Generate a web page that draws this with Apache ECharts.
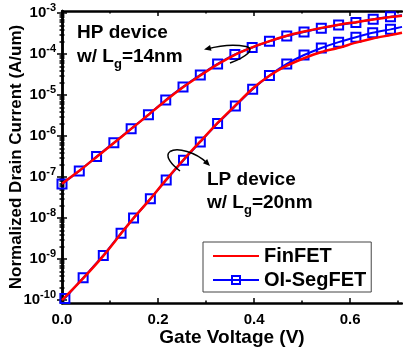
<!DOCTYPE html>
<html>
<head>
<meta charset="utf-8">
<script src="https://cdn.jsdelivr.net/npm/echarts@6/dist/echarts.min.js"></script>
<style>
html, body { margin: 0; padding: 0; background: #fff; }
#chart { width: 403px; height: 347px; }
</style>
</head>
<body>
<div id="chart"></div>
<script>
// gate voltage (V) and normalized drain current (A/um)
var vgHp = [0, 0.036, 0.072, 0.108, 0.144, 0.180, 0.216, 0.252, 0.288, 0.324, 0.360,
            0.396, 0.432, 0.468, 0.504, 0.540, 0.576, 0.612, 0.648, 0.684, 0.708];
var hpSegFet = [6.8e-8, 1.41e-7, 3.16e-7, 6.9e-7, 1.51e-6, 3.3e-6, 7.6e-6, 1.58e-5, 3.1e-5, 5.75e-5, 9.8e-5,
                1.45e-4, 2.04e-4, 2.75e-4, 3.47e-4, 4.27e-4, 5.13e-4, 5.9e-4, 7.1e-4, 8.1e-4, 8.9e-4];
var hpFinFet = [6.9e-8, 1.42e-7, 3.1e-7, 6.8e-7, 1.5e-6, 3.3e-6, 7.4e-6, 1.55e-5, 3.0e-5, 5.6e-5, 9.6e-5,
                1.46e-4, 2.07e-4, 2.8e-4, 3.55e-4, 4.35e-4, 5.2e-4, 6.0e-4, 7.0e-4, 8.0e-4, 8.6e-4];

var vgLp = [0.006, 0.044, 0.086, 0.123, 0.149, 0.184, 0.217, 0.253, 0.288, 0.324, 0.361,
            0.397, 0.432, 0.468, 0.504, 0.540, 0.576, 0.612, 0.647, 0.684, 0.708];
var lpSegFet = [1.1e-10, 3.5e-10, 1.23e-9, 4.3e-9, 1.0e-8, 2.95e-8, 8.5e-8, 2.57e-7, 7.2e-7, 2.04e-6, 5.4e-6,
                1.38e-5, 3.0e-5, 5.75e-5, 9.5e-5, 1.41e-4, 1.95e-4, 2.57e-4, 3.3e-4, 4.0e-4, 4.6e-4];
var vgLpFin = [0, 0.044, 0.086, 0.123, 0.149, 0.184, 0.217, 0.253, 0.288, 0.324, 0.361,
               0.397, 0.432, 0.468, 0.504, 0.540, 0.576, 0.612, 0.647, 0.684, 0.708];
var lpFinFet = [1.0e-10, 3.4e-10, 1.2e-9, 4.2e-9, 1.0e-8, 2.95e-8, 8.7e-8, 2.65e-7, 7.4e-7, 2.1e-6, 5.6e-6,
                1.45e-5, 2.95e-5, 5.2e-5, 7.9e-5, 1.12e-4, 1.42e-4, 1.9e-4, 2.4e-4, 2.9e-4, 3.3e-4];

var decades = [-10, -9, -8, -7, -6, -5, -4, -3];
var voltTicks = [0, 0.2, 0.4, 0.6];
var voltMinor = [0.1, 0.3, 0.5, 0.7];

var FONT = '"Liberation Sans", Arial, sans-serif';
var xMin = 0, xMax = 0.708;
var yMin = -10.07, yMax = -2.95;

var yMinor = [];
for (var n = -11; n < -2; n++) {
    for (var k = 2; k < 10; k++) {
        var t = n + Math.log10(k);
        if (t > yMin && t < yMax) yMinor.push(t);
    }
}

function pairs(xs, ys, lastBare) {
    return xs.map(function (x, i) {
        var item = {value: [x, Math.log10(ys[i])]};
        if (lastBare && i === xs.length - 1) item.symbol = 'none';
        return item;
    });
}

function segSeries(data) {
    return {
        name: 'OI-SegFET', type: 'line', data: data, smooth: 0.2,
        symbol: 'rect', symbolSize: 9, showAllSymbol: true,
        lineStyle: {color: '#0000ff', width: 2},
        itemStyle: {color: 'rgba(0,0,0,0)', borderColor: '#0000ff', borderWidth: 2},
        z: 2
    };
}

function finSeries(data) {
    return {
        name: 'FinFET', type: 'line', data: data, smooth: 0.2, symbol: 'none',
        lineStyle: {color: '#ff0000', width: 2.5},
        itemStyle: {color: '#ff0000'},
        z: 3
    };
}

function xAx(pos, ticks, len, line, labels) {
    return {
        type: 'value', position: pos, min: xMin, max: xMax, interval: 0.1,
        axisLine: {show: line, lineStyle: {color: '#000', width: 2.5}},
        axisTick: {show: true, inside: true, length: len, customValues: ticks,
                   lineStyle: {color: '#000', width: 1.5}},
        axisLabel: labels ? {
            show: true, customValues: voltTicks, margin: 9,
            color: '#000', fontFamily: FONT, fontWeight: 'bold', fontSize: 15,
            formatter: function (v) { return v.toFixed(1); }
        } : {show: false},
        splitLine: {show: false}
    };
}

function yAx(pos, ticks, len, line, labels) {
    return {
        type: 'value', position: pos, min: yMin, max: yMax,
        axisLine: {show: line, lineStyle: {color: '#000', width: 2.5}},
        axisTick: {show: true, inside: true, length: len, customValues: ticks,
                   lineStyle: {color: '#000', width: 1.5}},
        axisLabel: labels ? {
            show: true, customValues: decades, margin: 6,
            formatter: function (v) { return '{b|10}{s|' + Math.round(v) + '}'; },
            rich: {
                b: {fontFamily: FONT, fontWeight: 'bold', fontSize: 15, color: '#000'},
                s: {fontFamily: FONT, fontWeight: 'bold', fontSize: 11, color: '#000', padding: [0, 0, 11, 0]}
            }
        } : {show: false},
        splitLine: {show: false}
    };
}

var xAxes = [
    xAx('bottom', voltTicks, 5, true, true),
    xAx('top', voltTicks, 5, true, false),
    xAx('bottom', voltMinor, 2.5, false, false),
    xAx('top', voltMinor, 2.5, false, false)
];
xAxes[0].name = 'Gate Voltage (V)';
xAxes[0].nameLocation = 'middle';
xAxes[0].nameGap = 25;
xAxes[0].nameMoveOverlap = false;
xAxes[0].nameTextStyle = {fontFamily: FONT, fontWeight: 'bold', fontSize: 19, color: '#000'};

var yAxes = [
    yAx('left', decades, 5, true, true),
    yAx('right', decades, 5, true, false),
    yAx('left', yMinor, 2.5, false, false),
    yAx('right', yMinor, 2.5, false, false)
];
yAxes[0].name = 'Normalized Drain Current (A/um)';
yAxes[0].nameLocation = 'middle';
yAxes[0].nameGap = 37;
yAxes[0].nameMoveOverlap = false;
yAxes[0].nameTextStyle = {fontFamily: FONT, fontWeight: 'bold', fontSize: 17, color: '#000'};

var textRich = {
    a: {fontFamily: FONT, fontWeight: 'bold', fontSize: 19, color: '#000'},
    s: {fontFamily: FONT, fontWeight: 'bold', fontSize: 13, color: '#000', padding: [14, 0, 0, 0]}
};

function arrowHead(tip, from) {
    var dx = tip[0] - from[0], dy = tip[1] - from[1];
    var d = Math.sqrt(dx * dx + dy * dy);
    var ux = dx / d, uy = dy / d;
    var L = 7, W = 3;
    return {
        type: 'polygon', z: 10, silent: true,
        shape: {points: [tip,
            [tip[0] - ux * L - uy * W, tip[1] - uy * L + ux * W],
            [tip[0] - ux * L + uy * W, tip[1] - uy * L - ux * W]]},
        style: {fill: '#000'}
    };
}

function curve(p) {
    return {
        type: 'bezierCurve', z: 10, silent: true,
        shape: {x1: p[0], y1: p[1], cpx1: p[2], cpy1: p[3], cpx2: p[4], cpy2: p[5], x2: p[6], y2: p[7]},
        style: {stroke: '#000', lineWidth: 1.5, fill: null}
    };
}

var chart = echarts.init(document.getElementById('chart'));

var option = {
    animation: false,
    backgroundColor: '#fff',
    grid: {left: 62, right: 1, top: 11, bottom: 44, containLabel: false, outerBoundsMode: 'none'},
    xAxis: xAxes,
    yAxis: yAxes,
    legend: {
        data: [
            {name: 'FinFET', itemStyle: {color: 'rgba(0,0,0,0)', borderWidth: 0, opacity: 0}},
            {name: 'OI-SegFET'}
        ],
        orient: 'vertical', left: 203, top: 242,
        padding: [4, 5, 2, 9], itemGap: 4,
        itemWidth: 46, itemHeight: 10,
        backgroundColor: '#fff', borderColor: '#444', borderWidth: 1, borderRadius: 0,
        textStyle: {fontFamily: FONT, fontWeight: 'bold', fontSize: 20, color: '#000', lineHeight: 20}
    },
    series: [
        segSeries(pairs(vgHp, hpSegFet, true)),
        segSeries(pairs(vgLp, lpSegFet, true)),
        finSeries(pairs(vgHp, hpFinFet, false)),
        finSeries(pairs(vgLpFin, lpFinFet, false))
    ],
    graphic: [
        {type: 'text', x: 77, y: 33, z: 10, style: {text: 'HP device', font: 'bold 19px ' + FONT, fill: '#000', verticalAlign: 'middle'}},
        {type: 'text', x: 77, y: 57, z: 10, style: {text: '{a|w/ L}{s|g}{a|=14nm}', rich: textRich, verticalAlign: 'middle'}},
        {type: 'text', x: 207, y: 180, z: 10, style: {text: 'LP device', font: 'bold 19px ' + FONT, fill: '#000', verticalAlign: 'middle'}},
        {type: 'text', x: 207, y: 203, z: 10, style: {text: '{a|w/ L}{s|g}{a|=20nm}', rich: textRich, verticalAlign: 'middle'}},
        curve([230, 63, 246, 57, 256, 49, 246, 46.5]),
        curve([246, 46.5, 234, 44, 218, 46, 207, 49]),
        arrowHead([204, 49.5], [212, 47.5]),
        curve([180, 171, 172, 165, 164, 156, 170, 151.5]),
        curve([170, 151.5, 177, 147, 196, 152, 207, 163]),
        arrowHead([210, 166], [204, 160])
    ]
};

chart.setOption(option);
</script>
</body>
</html>
